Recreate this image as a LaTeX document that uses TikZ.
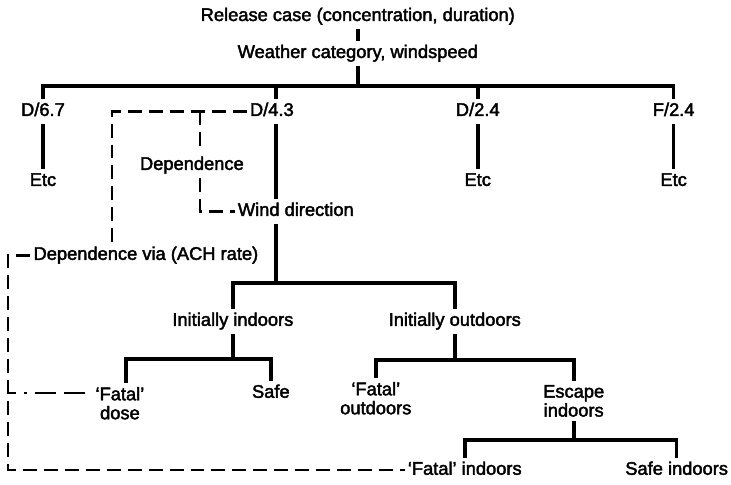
\documentclass[tikz,border=0pt]{standalone}
\usepackage{fontspec}
\setmainfont{Liberation Sans}
\newfontfamily\lblfont{Liberation Sans}[FakeBold=2.2]
\begin{document}
\begin{tikzpicture}[x=1pt,y=-1pt,
  lbl/.style={font=\lblfont\fontsize{18.3}{19}\selectfont, text height=13pt, text depth=4pt, inner xsep=3pt, inner ysep=4pt, anchor=base},
  lbltwo/.style={font=\lblfont\fontsize{18.3}{19}\selectfont, align=center, inner xsep=3pt, inner ysep=4pt, anchor=north},
  tree/.style={line width=3.6pt, line join=miter},
  depline/.style={line width=2.4pt, dash pattern=on 14pt off 7pt},
  dotline/.style={line width=2.4pt, dash pattern=on 8pt off 8pt on 3pt off 8pt on 21pt off 8pt on 21pt off 30pt}]
\fill[white] (0,0) rectangle (731,485);
% nodes
\node[lbl] (rel) at (358,21) {Release case (concentration, duration)};
\node[lbl] (wea) at (358,58) {Weather category, windspeed};
\coordinate (bar) at (358,86);
\node[lbl] (d67) at (43,116) {D/6.7};
\node[lbl] (d43) at (272,116) {D/4.3};
\node[lbl] (d24) at (478,116) {D/2.4};
\node[lbl] (f24) at (674,116) {F/2.4};
\node[lbl] (etc1) at (43,186) {Etc};
\node[lbl] (etc2) at (478,186) {Etc};
\node[lbl] (etc3) at (674,186) {Etc};
\coordinate (trunk) at (276,86);
\node[lbl] (dep) at (192,170) {Dependence};
\node[lbl] (wind) at (296,216) {Wind direction};
\node[lbl] (depvia) at (146,260) {Dependence via (ACH rate)};
\coordinate (bar2) at (276,283);
\node[lbl] (ind) at (233,326) {Initially indoors};
\node[lbl] (outd) at (455,326) {Initially outdoors};
\coordinate (bar3) at (233,359);
\node[lbltwo] (fdose) at (120,383) {‘Fatal’\\dose};
\node[lbl] (safe) at (271,398) {Safe};
\coordinate (bar4) at (455,360);
\node[lbltwo] (fout) at (376,378) {‘Fatal’\\outdoors};
\node[lbltwo] (esc) at (574,381) {Escape\\indoors};
\coordinate (bar5) at (574,440);
\node[lbl] (findo) at (465,475) {‘Fatal’ indoors};
\node[lbl] (safeind) at (677,475) {Safe indoors};
\coordinate (lx) at (8,251);
\coordinate (dx) at (112,111);
\coordinate (dcol) at (200,111);
\coordinate (fdy) at (8,393);
% solid tree
\draw[tree] (rel.south) -- (wea.north);
\draw[tree] (wea.south) -- (bar);
\draw[tree] (d67.north) -- (d67.north |- bar) -- (f24.north |- bar) -- (f24.north);
\draw[tree] (trunk) -- (d43.north -| trunk);
\draw[tree] (bar -| d24) -- (d24.north);
\draw[tree] (d67.south) -- (etc1.north);
\draw[tree] (d24.south) -- (etc2.north);
\draw[tree] (f24.south) -- (etc3.north);
\draw[tree] (d43.south -| trunk) -- (wind.north -| trunk);
\draw[tree] (wind.south -| trunk) -- (bar2);
\draw[tree] (ind.north) -- (ind.north |- bar2) -- (outd.north |- bar2) -- (outd.north);
\draw[tree] (ind.south) -- (bar3);
\draw[tree] ([xshift=6pt]fdose.north) -- ([xshift=6pt]fdose.north |- bar3) -- (safe.north |- bar3) -- (safe.north);
\draw[tree] (outd.south) -- (bar4);
\draw[tree] (fout.north) -- (fout.north |- bar4) -- (esc.north |- bar4) -- (esc.north);
\draw[tree] (esc.south) -- (bar5);
\draw[tree] (findo.north) -- (findo.north |- bar5) -- (safeind.north |- bar5) -- (safeind.north);
% dashed dependence lines
\draw[depline] (d43.west) -- (d43.west -| dx) -- (dx |- depvia.north);
\draw[depline] (d43.west -| dcol) -- (dcol |- dep.north);
\draw[depline] (dcol |- dep.south) |- (wind.west);
\draw[depline] (depvia.west) -- (depvia.west -| lx) -- (lx |- findo.west) -- (findo.west);
\draw[dotline] (fdy) -- ([xshift=-6pt]fdy -| fdose.west);
\end{tikzpicture}
\end{document}
